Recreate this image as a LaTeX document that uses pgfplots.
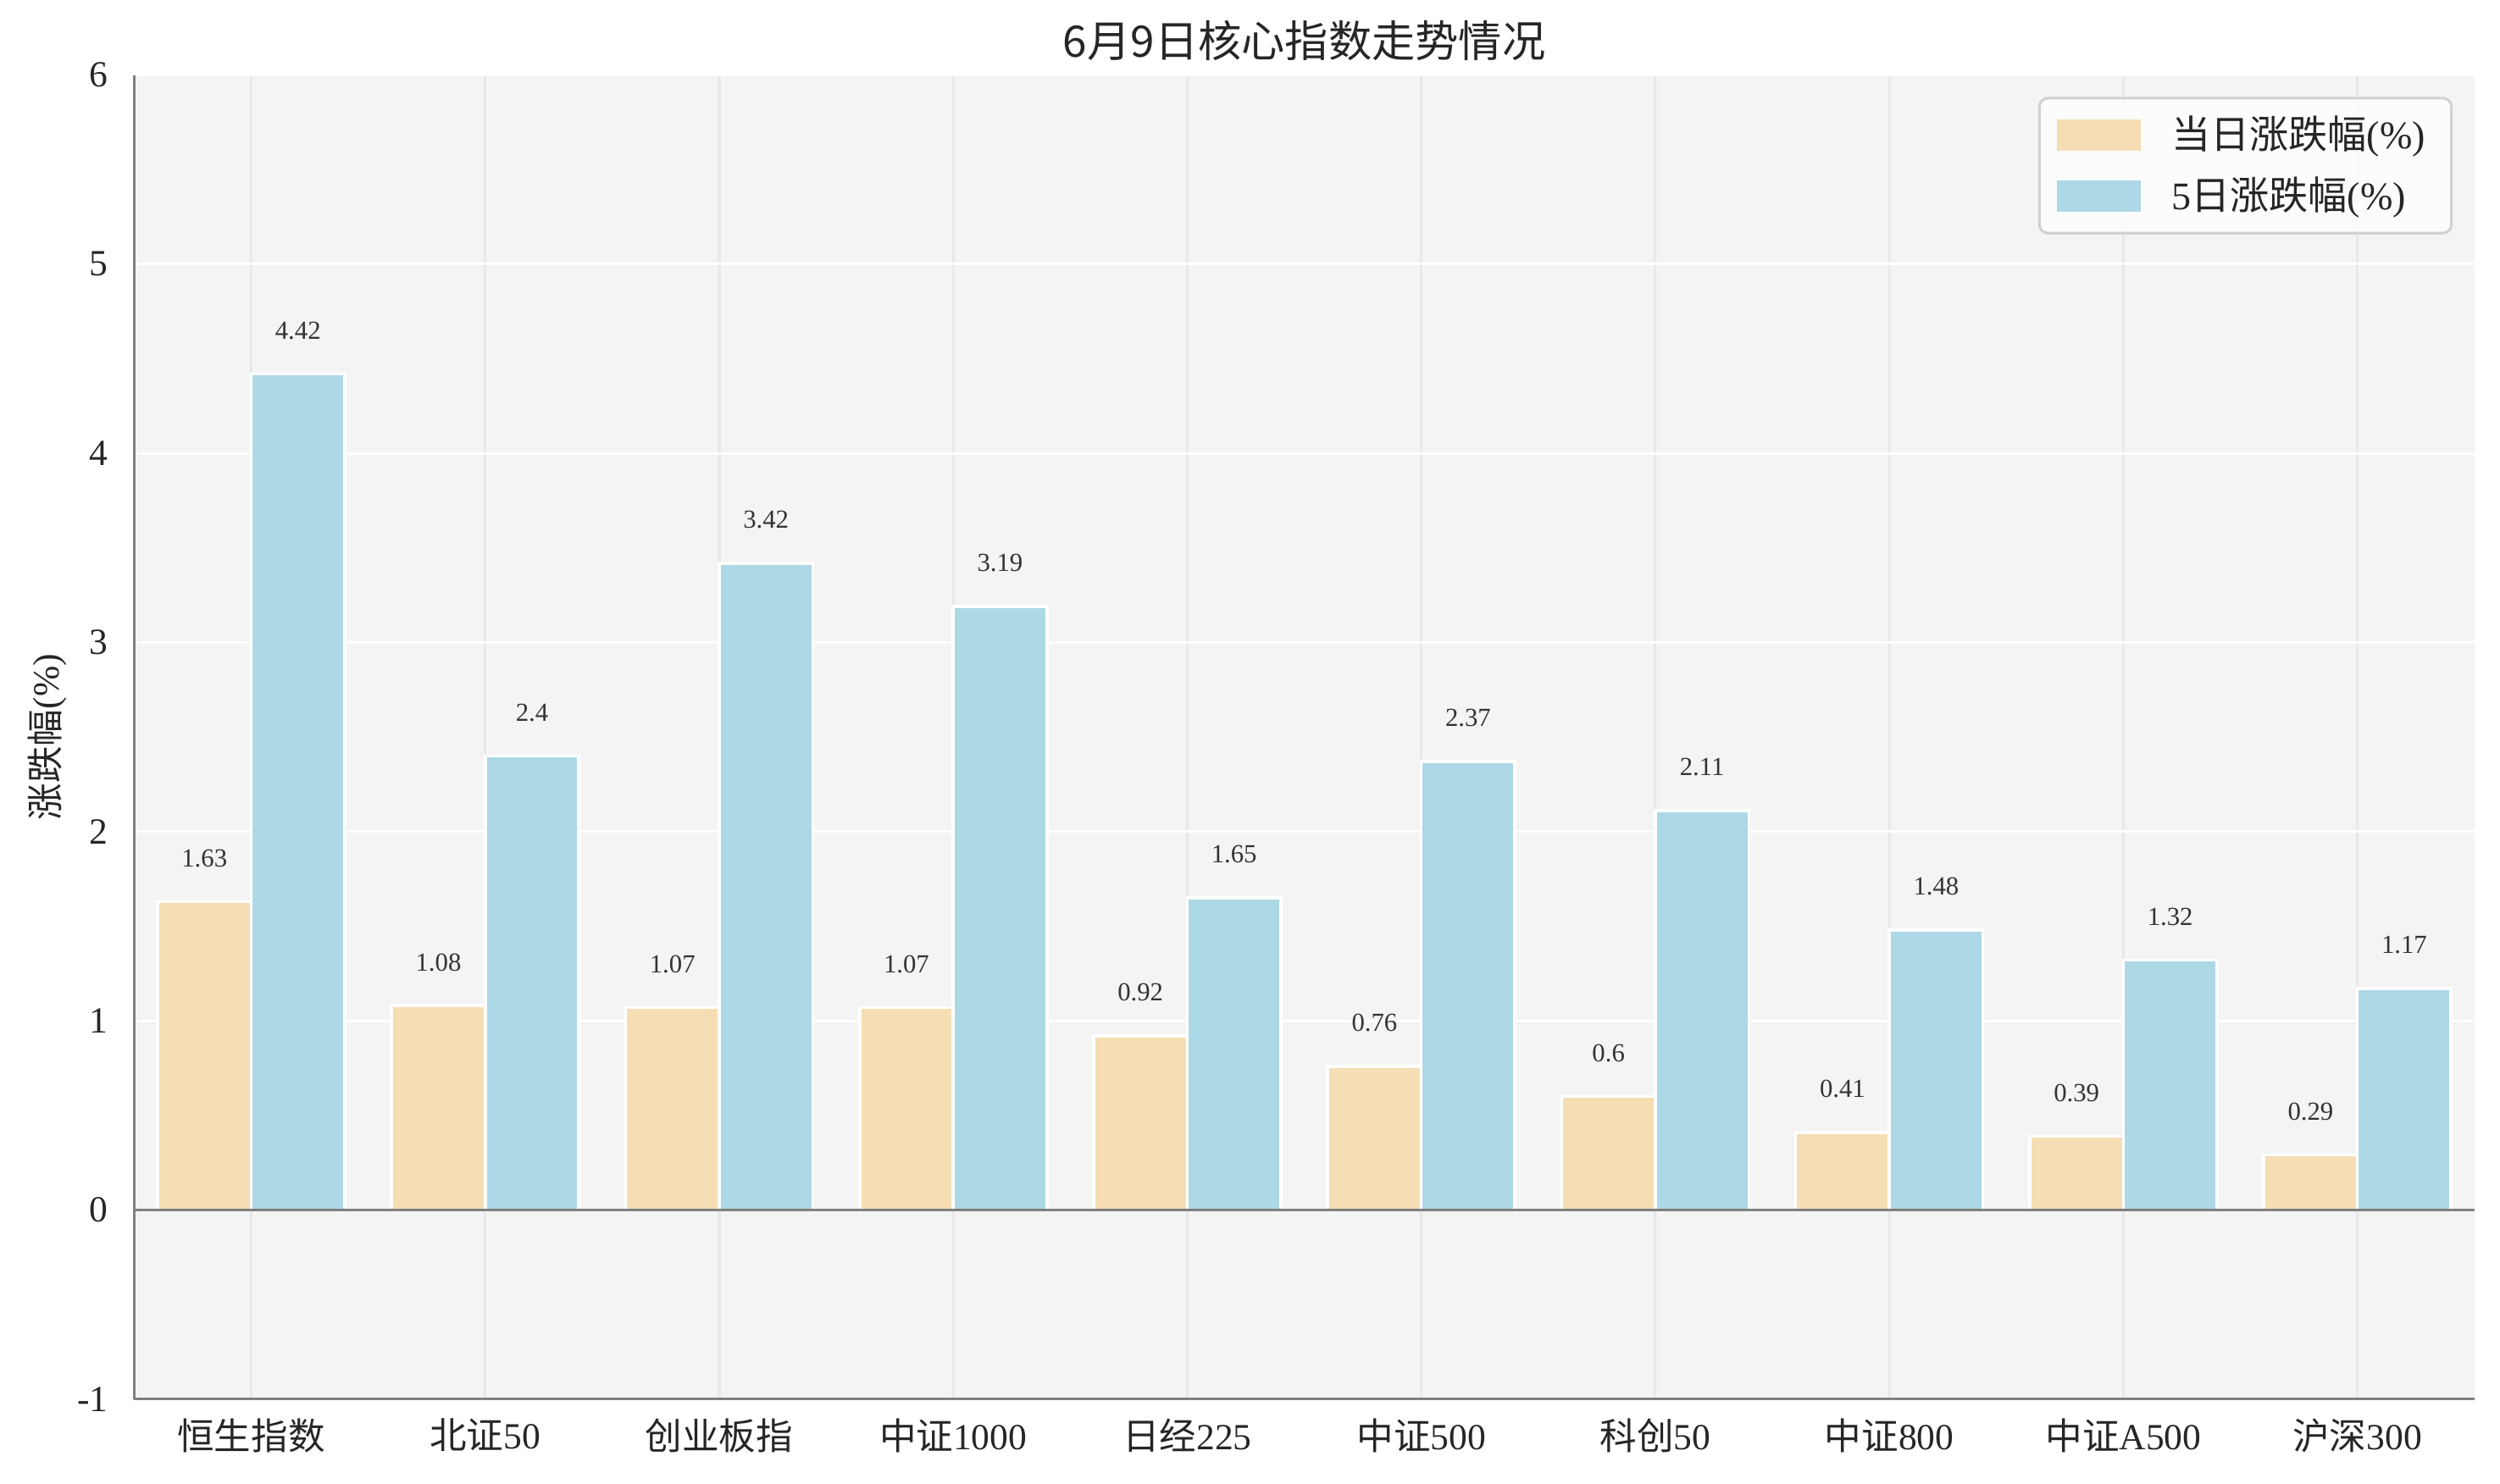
\documentclass[border=0pt]{standalone}
\usepackage{fontspec}
\setmainfont{Liberation Serif}
\newfontfamily\cjk{Noto Sans CJK SC}
\usepackage{pgfplots}
\pgfplotsset{compat=1.18}
\definecolor{wheatc}{HTML}{F5DEB3}
\definecolor{lblue}{HTML}{ADD8E6}
\definecolor{bgc}{HTML}{F4F4F4}
\definecolor{vgrid}{HTML}{E8E8E8}
\definecolor{spine}{HTML}{808080}

\begin{document}
\begin{tikzpicture}
\begin{axis}[
    name=ax,
    scale only axis, width=539pt, height=305pt,
    xmin=-0.5, xmax=9.5, ymin=-1, ymax=6,
    ybar, bar width=0.4,
    xtick={0,...,9},
    xticklabels={{\cjk 恒生指数},{\cjk 北证}50,{\cjk 创业板指},{\cjk 中证}1000,{\cjk 日经}225,{\cjk 中证}500,{\cjk 科创}50,{\cjk 中证}800,{\cjk 中证}A500,{\cjk 沪深}300},
    ytick={-1,0,...,6},
    major tick length=0pt,
    /pgf/number format/assume math mode=true,
    tick label style={font=\fontsize{8.5}{10}\selectfont, text=black!85},
    yticklabel style={xshift=-2.5pt},
    xticklabel style={yshift=-1pt},
    axis x line*=bottom, axis y line*=left,
    axis line style={spine, line width=0.6pt, -},
    axis background/.style={fill=bgc},
    xmajorgrids, ymajorgrids,
    x grid style={vgrid, line width=0.6pt},
    y grid style={white, line width=0.6pt},
    title={{\cjk 6月9日核心指数走势情况}},
    title style={at={(axis description cs:0.5,1)}, anchor=center, yshift=2pt, font=\fontsize{10}{12}\selectfont, text=black!85},
    ylabel={{\cjk 涨跌幅}(\%)},
    ylabel style={at={(axis description cs:-0.037,0.5)}, anchor=center, font=\fontsize{8.5}{10}\selectfont, text=black!85},
    nodes near coords,
    every node near coord/.append style={font=\fontsize{6}{7}\selectfont, anchor=center, yshift=10pt, text=black!80},
    legend style={at={(axis description cs:1,1)}, anchor=north east, xshift=-5pt, yshift=-5pt,
        draw=black!18, line width=0.6pt, rounded corners=2pt, fill=white, fill opacity=0.8, text opacity=1,
        font=\fontsize{9}{11}\selectfont, inner xsep=4pt, inner ysep=2pt, row sep=1pt, text=black!85},
    legend cell align=left,
]
\addplot[fill=wheatc, draw=white, line width=0.7pt, bar shift=-0.2,
    legend image code/.code={\fill[wheatc, sharp corners, fill opacity=1] (0pt,-3.3pt) rectangle (18.7pt,3.3pt);}]
    coordinates {(0,1.63) (1,1.08) (2,1.07) (3,1.07) (4,0.92) (5,0.76) (6,0.6) (7,0.41) (8,0.39) (9,0.29)};
\addplot[fill=lblue, draw=white, line width=0.7pt, bar shift=0.2,
    legend image code/.code={\fill[lblue, sharp corners, fill opacity=1] (0pt,-3.3pt) rectangle (18.7pt,3.3pt);}]
    coordinates {(0,4.42) (1,2.4) (2,3.42) (3,3.19) (4,1.65) (5,2.37) (6,2.11) (7,1.48) (8,1.32) (9,1.17)};
\legend{\hspace{5pt}{\cjk 当日涨跌幅}(\%),\hspace{5pt}5{\cjk 日涨跌幅}(\%)}
\draw[spine, line width=0.6pt] (axis cs:-0.5,0) -- (axis cs:9.5,0);
\end{axis}
\pgfresetboundingbox
\path ([xshift=-30.9pt,yshift=-19.5pt]ax.south west) rectangle ([xshift=5.9pt,yshift=17.3pt]ax.north east);
\end{tikzpicture}
\end{document}
